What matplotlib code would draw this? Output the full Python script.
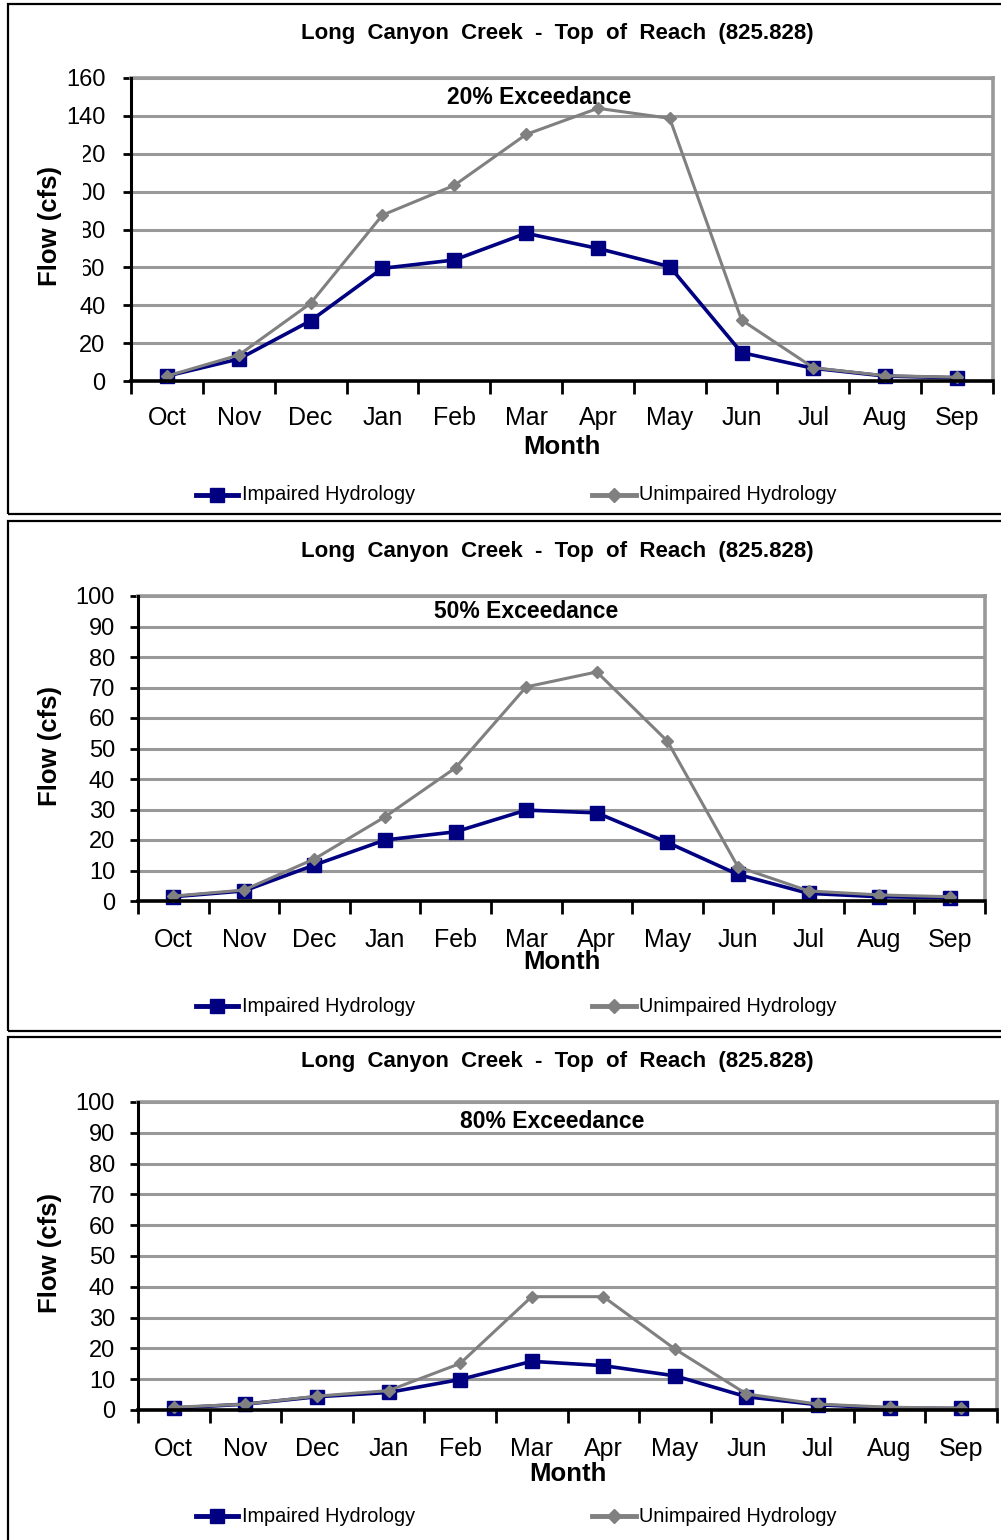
import matplotlib
matplotlib.use('Agg')
import matplotlib.pyplot as plt
from matplotlib.patches import Rectangle

plt.rcParams['font.family'] = ['Liberation Sans', 'DejaVu Sans']

# --- data ---
months = ['Oct', 'Nov', 'Dec', 'Jan', 'Feb', 'Mar', 'Apr', 'May', 'Jun', 'Jul', 'Aug', 'Sep']
title = 'Long  Canyon  Creek  -  Top  of  Reach  (825.828)'

impaired_20 = [2.6, 11.6, 31.8, 59.5, 63.9, 78.0, 70.0, 60.4, 15.0, 6.7, 2.6, 1.7]
unimpaired_20 = [2.6, 13.7, 41.0, 87.6, 103.3, 130.2, 144.0, 138.7, 32.2, 7.0, 2.8, 2.0]

impaired_50 = [1.4, 3.3, 11.8, 20.0, 22.7, 29.8, 28.9, 19.2, 8.7, 2.5, 1.4, 1.1]
unimpaired_50 = [1.6, 3.6, 13.8, 27.6, 43.7, 70.2, 75.1, 52.4, 11.2, 3.3, 2.0, 1.4]

impaired_80 = [0.6, 1.9, 4.3, 5.7, 9.9, 15.8, 14.4, 11.1, 4.3, 1.7, 0.6, 0.5]
unimpaired_80 = [0.9, 1.9, 4.5, 6.3, 15.1, 36.8, 36.8, 19.8, 5.2, 1.9, 0.9, 0.6]

W, H = 1001, 1540
fig = plt.figure(figsize=(W / 100, H / 100), dpi=100)


def fx(x):
    return x / W


def fy(y):
    return 1 - y / H


# pixel positions of each panel (axes box l, t, r, b; frame top/bottom; text rows)
panels = [
    dict(sub='20% Exceedance', imp=impaired_20, unimp=unimpaired_20, ymax=160, step=20,
         box=(131, 78, 993, 381), frame=(4, 514), ty=34, subxy=(539, 98), ly=495, xl=418, my=447,
         tpad=12.5),
    dict(sub='50% Exceedance', imp=impaired_50, unimp=unimpaired_50, ymax=100, step=10,
         box=(138, 596, 985, 901), frame=(521, 1031), ty=551, subxy=(526, 611), ly=1006, xl=940, my=962,
         tpad=10.5),
    dict(sub='80% Exceedance', imp=impaired_80, unimp=unimpaired_80, ymax=100, step=10,
         box=(138, 1102, 997, 1410), frame=(1037, 1560), ty=1062, subxy=(552, 1121), ly=1516, xl=1449, my=1474,
         tpad=10.5),
]

navy = '#000080'
grey = '#808080'

for p in panels:
    # panel frame
    top, bot = p['frame']
    fig.patches.append(Rectangle((fx(8), fy(bot)), fx(1010 - 8), (bot - top) / H,
                                 transform=fig.transFigure, fill=False,
                                 edgecolor='black', linewidth=1.6, zorder=0))

    l, t, r, b = p['box']
    ax = fig.add_axes([fx(l), fy(b), fx(r - l), (b - t) / H])
    x = list(range(len(months)))

    ax.plot(x, p['unimp'], color=grey, linewidth=2.2, marker='D', markersize=6,
            markerfacecolor=grey, markeredgecolor=grey, zorder=4, clip_on=False)
    ax.plot(x, p['imp'], color=navy, linewidth=2.6, marker='s', markersize=9.5,
            markerfacecolor=navy, markeredgecolor=navy, zorder=3, clip_on=False)
    ax.set_xlim(-0.5, len(months) - 0.5)
    ax.set_ylim(0, p['ymax'])

    ax.set_yticks(range(0, p['ymax'] + 1, p['step']))
    ax.yaxis.grid(True, color='#999999', linewidth=2.2, zorder=0)
    ax.set_axisbelow(True)
    ax.set_xticks([i - 0.5 for i in range(len(months) + 1)])
    ax.set_xticklabels([])
    ax.tick_params(axis='x', direction='out', length=9, width=2)
    ax.tick_params(axis='y', direction='out', length=6, width=2, labelsize=17, pad=p['tpad'])

    ax.spines['left'].set_linewidth(2.2)
    ax.spines['bottom'].set_linewidth(2.6)
    ax.spines['left'].set_zorder(5)
    ax.spines['bottom'].set_zorder(5)
    for s in ('top', 'right'):
        ax.spines[s].set_color('#999999')
        ax.spines[s].set_linewidth(2.6)

    for i, m in enumerate(months):
        fig.text(fx(l + (i + 0.5) * (r - l) / len(months)), fy(p['xl']), m,
                 ha='center', va='center', fontsize=18)
    fig.text(fx((l + r) / 2), fy(p['my']), 'Month', ha='center', va='center',
             fontsize=18.5, fontweight='bold')

    # y label sits on a white block that hides the leading digits of long tick labels, as in the reference
    cy = (t + b) / 2 - 3
    fig.patches.append(Rectangle((fx(24), fy(cy + 74)), fx(83 - 24), 160 / H,
                                 transform=fig.transFigure, facecolor='white',
                                 edgecolor='none', zorder=9))
    fig.text(fx(50), fy(cy), 'Flow (cfs)', rotation=90, ha='center', va='center',
             fontsize=18.5, fontweight='bold', zorder=10)

    fig.text(fx(557), fy(p['ty']), title, ha='center', va='center',
             fontsize=16, fontweight='bold')
    fig.text(fx(p['subxy'][0]), fy(p['subxy'][1]), p['sub'], ha='center', va='center',
             fontsize=16.5, fontweight='bold', zorder=10)

    # legend
    ly = p['ly']
    lax = fig.add_axes([0, fy(ly + 10), 1, 20 / H])
    lax.set_xlim(0, W)
    lax.set_ylim(-1, 1)
    lax.axis('off')
    lax.plot([196, 238], [0, 0], color=navy, linewidth=3.5)
    lax.plot([217], [0], color=navy, marker='s', markersize=9.5)
    lax.text(242, 0, 'Impaired Hydrology', va='center', ha='left', fontsize=14.3)
    lax.plot([592, 636], [0, 0], color=grey, linewidth=3.5)
    lax.plot([614], [0], color=grey, marker='D', markersize=7)
    lax.text(639, 0, 'Unimpaired Hydrology', va='center', ha='left', fontsize=14.3)

fig.savefig('out.png', dpi=100)
